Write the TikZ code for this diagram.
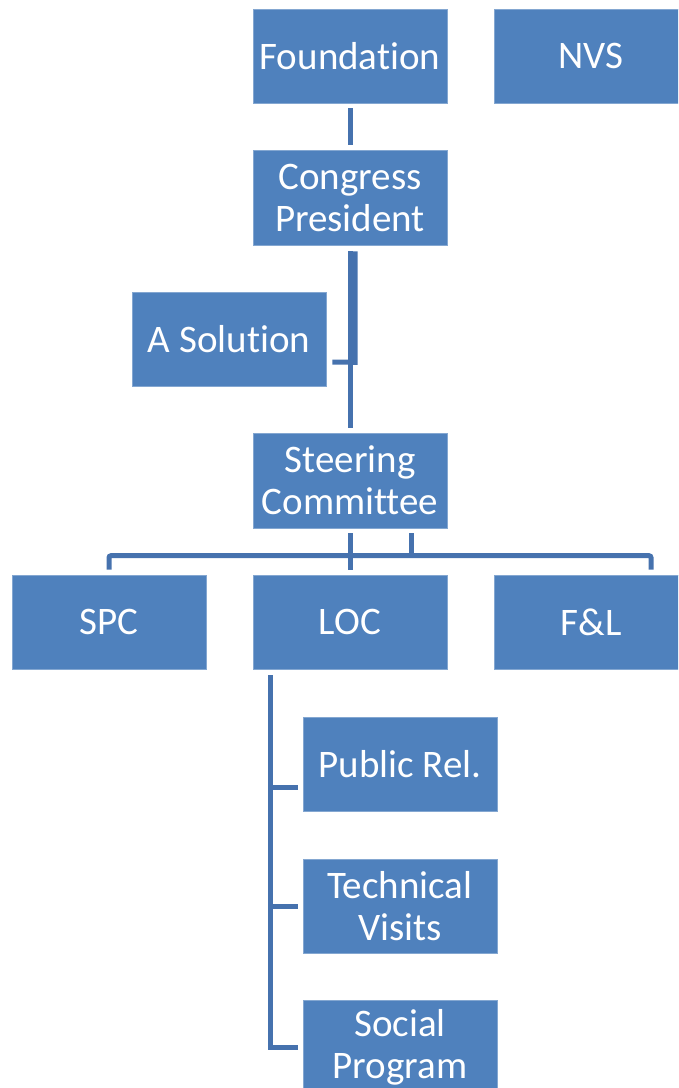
\documentclass[tikz,border=0pt]{standalone}
\usepackage{fontspec}
\setmainfont[Ligatures=NoCommon]{Carlito}
\usetikzlibrary{calc}
\definecolor{boxblue}{HTML}{4F81BD}
\definecolor{linkblue}{HTML}{4672AE}
\begin{document}
\begin{tikzpicture}[x=1pt,y=-1pt,
  orgbox/.style={rectangle, fill=boxblue, draw=boxblue!70!white, line width=0.6pt,
    minimum width=194pt, minimum height=94pt, inner sep=0pt, align=center,
    text=white, font=\fontsize{39}{42}\selectfont},
  link/.style={draw=linkblue, line width=5pt}]
\useasboundingbox (0,0) rectangle (678,1088);
\begin{scope}
\clip (0,0) rectangle (678,1088);
% boxes
\node[orgbox] (found) at (350,56) {Foundation};
\node[orgbox] (nvs) at (591,56) {NVS};
\node[orgbox, minimum height=95pt] (congress) at (350,197.5) {Congress\\President};
\node[orgbox] (asol) at (229,339) {A Solution};
\node[orgbox, minimum height=95pt] (steer) at (350,480.5) {Steering\\Committee};
\node[orgbox] (spc) at (109,622) {SPC};
\node[orgbox] (loc) at (350,622) {LOC};
\node[orgbox] (fl) at (591,622) {F\&L};
\node[orgbox] (pubrel) at (400,764) {Public Rel.};
\node[orgbox] (techv) at (400,906) {Technical\\Visits};
\node[orgbox] (social) at (400,1047) {Social\\Program};
% connectors
\draw[link] ($(found.south)+(0,5)$) -- ($(congress.north)+(0,-5)$);
\draw[link] ($(congress.south)+(0,6)$) -- ($(steer.north)+(0,-5)$);
\draw[link] ($(congress.south)+(5,6)$) -- ($(congress.south)+(5,117)$) -- ($(asol.east)+(6,23)$);
\draw[link] ($(steer.south)+(0,5)$) -- ($(loc.north)+(0,-5)$);
\draw[link] ($(steer.south)+(61,5)$) -- ($(steer.south)+(61,28)$);
\draw[link, rounded corners=2pt] ($(spc.north)+(0,-5)$) -- ($(spc.north)+(0,-19)$)
  -- ($(fl.north)+(60,-19)$) -- ($(fl.north)+(60,-5)$);
\draw[link] ($(loc.south)+(-80,6)$) |- ($(social.west)+(-5,0)$);
\draw[link] ($(pubrel.west)+(-5,23)$) -- ($(pubrel.west)+(-33,23)$);
\draw[link] ($(techv.west)+(-5,0)$) -- ($(techv.west)+(-33,0)$);
\end{scope}
\end{tikzpicture}
\end{document}
